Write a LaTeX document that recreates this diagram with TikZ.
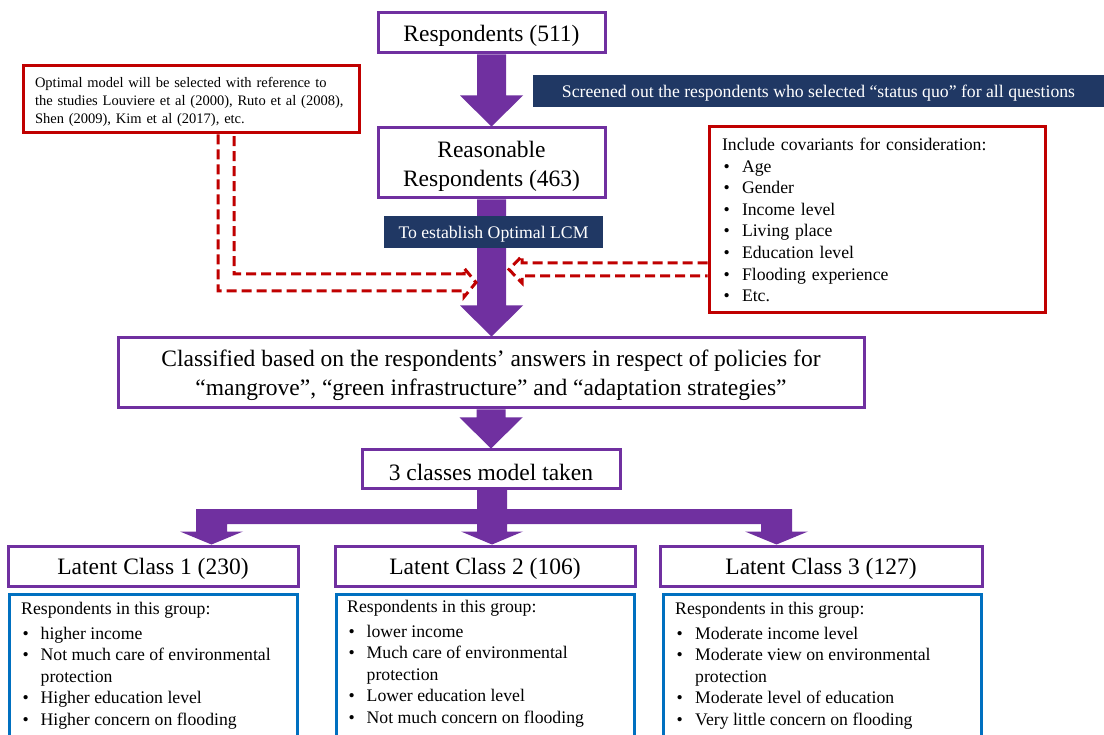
\documentclass[tikz,border=0pt]{standalone}
\usepackage{fontspec}
\setmainfont{Liberation Serif}
\usetikzlibrary{calc}
\definecolor{purp}{HTML}{7030A0}
\definecolor{navy}{HTML}{203864}
\definecolor{dred}{HTML}{C00000}
\definecolor{lblue}{HTML}{0070C0}
\pgfdeclarelayer{bg}
\pgfsetlayers{bg,main}
\newcommand\bul[1]{\hspace*{1.5pt}\makebox[#1][l]{•}}
\newcommand\lowr[1]{\raisebox{-3pt}[\height][\depth]{#1}}
\newcommand\lowb[1]{\raisebox{-2pt}[\height][\depth]{#1}}
\newcommand\vblock[2]{%
  \fill[purp] let \p1=(#1), \p2=(#2) in
  (\x1-14.5pt,\y1) -- (\x1-14.5pt,\y2+31pt) -- (\x1-31.5pt,\y2+31pt) -- (\x1,\y2)
  -- (\x1+31.5pt,\y2+31pt) -- (\x1+14.5pt,\y2+31pt) -- (\x1+14.5pt,\y1) -- cycle;}
\begin{document}
\begin{tikzpicture}[x=1pt,y=-1pt,
  pbox/.style={draw=purp, line width=3pt, fill=white, inner sep=0pt, align=center,
    font=\fontsize{23.5}{29}\selectfont},
  banner/.style={fill=navy, text=white, inner sep=0pt, font=\fontsize{17.7}{21.5}\selectfont},
  rbox/.style={draw=dred, line width=3pt, fill=white, align=left},
  bbox/.style={draw=lblue, line width=3pt, inner sep=0pt, outer sep=0pt, anchor=north west},
  btxt/.style={inner sep=0pt, align=left, anchor=north west, font=\fontsize{17.7}{21.5}\selectfont},
  dashar/.style={draw=dred, line width=3pt, dash pattern=on 10pt off 5pt, line join=miter}
]
\useasboundingbox (0,0) rectangle (1104,735);
\clip (0,0) rectangle (1104,735);

% main flow boxes
\node[pbox, minimum width=227, minimum height=40] (resp) at (491.5,33) {\lowr{Respondents (511)}};
\node[pbox, minimum width=227, minimum height=70] (reas) at (491.5,163)
  {\lowr{Reasonable}\\\lowr{Respondents (463)}};
\node[banner, minimum width=571, minimum height=32] (screen) at (818.5,91)
  {\lowb{Screened out the respondents who selected “status quo” for all questions}};
\node[pbox, minimum width=746, minimum height=70] (cls) at (491,373)
  {\lowb{Classified based on the respondents’ answers in respect of policies for}\\
   \lowb{“mangrove”, “green infrastructure” and “adaptation strategies”}};
\node[pbox, minimum width=258, minimum height=38] (three) at (491,469) {\lowr{3 classes model taken}};

% side notes
\node[rbox, minimum width=336, minimum height=67, text width=316, inner xsep=10pt, inner ysep=0pt,
  font=\fontsize{14.5}{18}\selectfont] (opt) at (191,99.5)
  {\hspace*{2pt}\lowb{Optimal model will be selected with reference to}\\
   \hspace*{2pt}\lowb{the studies Louviere et al (2000), Ruto et al (2008),}\\
   \hspace*{2pt}\lowb{Shen (2009), Kim et al (2017), etc.}};
\node[rbox, minimum width=336, minimum height=186, text width=310, inner xsep=13pt, inner ysep=0pt,
  font=\fontsize{17.7}{21.6}\selectfont] (cov) at (877,220)
  {Include covariants for consideration:\\
   \bul{18.5pt}Age\\
   \bul{18.5pt}Gender\\
   \bul{18.5pt}Income level\\
   \bul{18.5pt}Living place\\
   \bul{18.5pt}Education level\\
   \bul{18.5pt}Flooding experience\\
   \bul{18.5pt}Etc.};

% latent classes
\node[pbox, minimum width=290, minimum height=40] (lc1) at (153,566) {\lowr{Latent Class 1 (230)}};
\node[pbox, minimum width=300, minimum height=40] (lc2) at (485,566) {\lowr{Latent Class 2 (106)}};
\node[pbox, minimum width=322, minimum height=40] (lc3) at (821,566) {\lowr{Latent Class 3 (127)}};

\node[bbox, minimum width=288, minimum height=160] (d1) at (9,594) {};
\node[bbox, minimum width=298, minimum height=160] (d2) at (336,594) {};
\node[bbox, minimum width=318, minimum height=160] (d3) at (663,594) {};

\node[btxt] (t1) at (21,602)
  {Respondents in this group:\\[3.5pt]
   \bul{18pt}higher income\\
   \bul{18pt}Not much care of environmental\\
   \hspace*{19.5pt}protection\\
   \bul{18pt}Higher education level\\
   \bul{18pt}Higher concern on flooding};
\node[btxt] (t2) at (347,600)
  {Respondents in this group:\\[3.5pt]
   \bul{18pt}lower income\\
   \bul{18pt}Much care of environmental\\
   \hspace*{19.5pt}protection\\
   \bul{18pt}Lower education level\\
   \bul{18pt}Not much concern on flooding};
\node[btxt] (t3) at (675,602)
  {Respondents in this group:\\[3.5pt]
   \bul{18.5pt}Moderate income level\\
   \bul{18.5pt}Moderate view on environmental\\
   \hspace*{20pt}protection\\
   \bul{18.5pt}Moderate level of education\\
   \bul{18.5pt}Very little concern on flooding};

% purple block arrows (behind)
\begin{pgfonlayer}{bg}
\fill[white] (0,0) rectangle (1104,735);
\vblock{resp.south}{reas.north}
\vblock{reas.south}{cls.north}
\vblock{cls.south}{three.north}
\fill[purp] let \p0=(three.south), \p1=(lc1.north) in
  (477pt,\y0) -- (477pt,-509pt) -- (196pt,-509pt) -- (196pt,\y1+13pt) -- (180pt,\y1+13pt)
  -- (211.5pt,\y1) -- (243pt,\y1+13pt) -- (227pt,\y1+13pt) -- (227pt,-524pt) -- (477pt,-524pt)
  -- (477pt,\y1+13pt) -- (461pt,\y1+13pt) -- (492pt,\y1) -- (523pt,\y1+13pt) -- (507pt,\y1+13pt)
  -- (507pt,-524pt) -- (761pt,-524pt) -- (761pt,\y1+13pt) -- (745pt,\y1+13pt) -- (776.5pt,\y1)
  -- (808pt,\y1+13pt) -- (792pt,\y1+13pt) -- (792pt,-509pt) -- (507pt,-509pt) -- (507pt,\y0) -- cycle;
\end{pgfonlayer}

\node[banner, minimum width=219, minimum height=32] (estab) at (493.5,232) {\lowb{To establish Optimal LCM}};

% dashed outline arrows
\draw[dashar] let \p1=(opt.south) in
  (218pt,\y1) -- (218pt,-291pt) -- (464pt,-291pt) -- (464pt,-297pt) -- (476pt,-282.5pt)
  -- (464pt,-268pt) -- (464pt,-274pt) -- (234pt,-274pt) -- (234pt,\y1);
\draw[dashar] let \p1=(cov.west) in
  (\x1,-263pt) -- (522pt,-263pt) -- (522pt,-256pt) -- (509pt,-269.5pt) -- (522pt,-283pt)
  -- (522pt,-276pt) -- (\x1,-276pt);
\end{tikzpicture}
\end{document}
